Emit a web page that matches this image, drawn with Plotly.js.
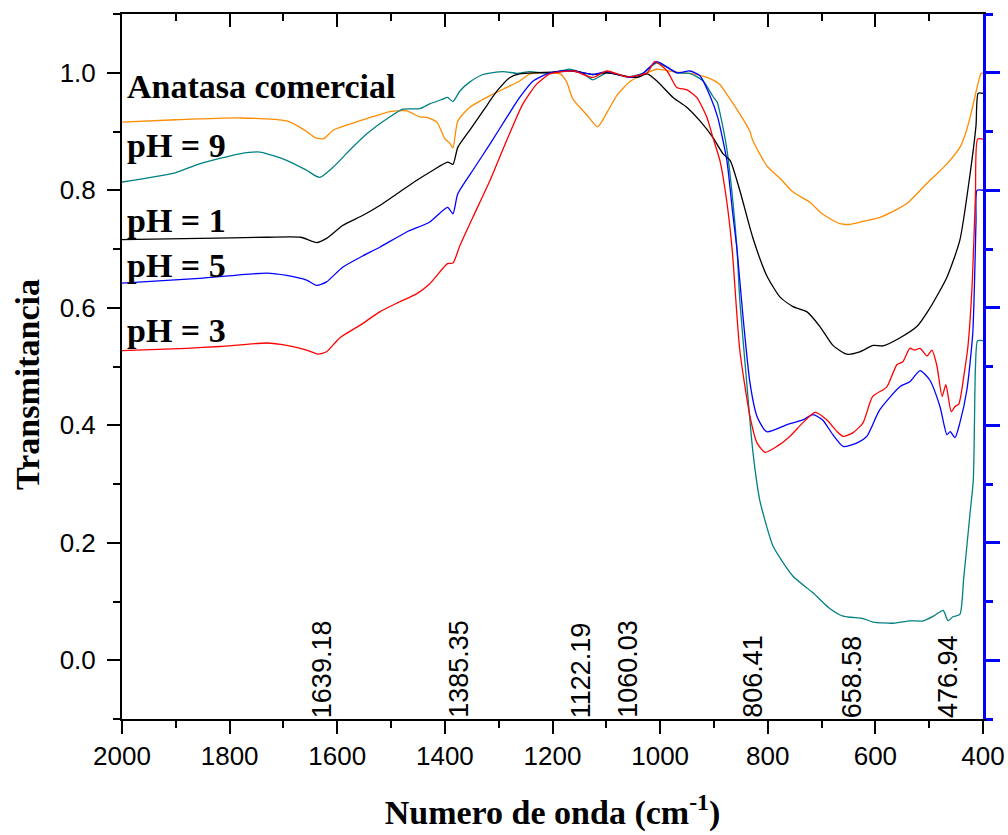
<!DOCTYPE html>
<html>
<head>
<meta charset="utf-8">
<script src="https://cdn.plot.ly/plotly-3.0.1.min.js"></script>
<style>html,body{margin:0;padding:0;background:#fff}#chart{width:1008px;height:835px}</style>
</head>
<body>
<div id="chart"></div>
<script>
// ---- data (wavenumber cm-1, transmittance) ----
const wnCom = [2000,1900,1780,1694,1660,1640,1625,1608,1595,1545,1502,1471,1447,1433,1415,1400,1391,1385,1376,1354,1316,1285,1261,1242,1218,1186,1174,1162,1136,1116,1099,1080,1056,1031,1006,976,939,907,889,870,852,833,828,802,777,753,722,699,666,647,623,591,542,505,467,443,433,424,411,404,400];
const trCom = [0.916,0.920,0.923,0.918,0.902,0.889,0.888,0.902,0.907,0.922,0.934,0.935,0.925,0.924,0.916,0.888,0.880,0.872,0.918,0.941,0.961,0.975,0.986,0.998,1.000,0.998,0.985,0.955,0.928,0.908,0.932,0.962,0.985,0.997,1.006,1.002,0.998,0.990,0.980,0.955,0.930,0.900,0.885,0.842,0.820,0.797,0.780,0.760,0.743,0.742,0.747,0.754,0.777,0.811,0.845,0.873,0.895,0.924,0.975,0.998,1.0];

const wnPH9 = [2000,1900,1856,1781,1744,1694,1657,1633,1608,1577,1545,1502,1478,1447,1428,1404,1395,1385,1372,1354,1329,1292,1266,1242,1210,1181,1168,1145,1125,1099,1062,1032,1006,969,945,920,902,894,889,876,865,857,852,839,828,815,809,790,753,716,686,660,623,604,567,536,511,492,474,465,456,443,436,424,418,414,410,400];
const trPH9 = [0.814,0.830,0.845,0.862,0.865,0.851,0.834,0.822,0.839,0.868,0.896,0.925,0.938,0.939,0.947,0.955,0.958,0.951,0.969,0.984,0.997,1.002,0.999,1.002,0.999,1.004,1.006,1.000,0.988,1.000,0.993,0.999,1.017,1.000,0.999,0.986,0.960,0.950,0.932,0.870,0.783,0.698,0.613,0.472,0.358,0.273,0.251,0.194,0.143,0.115,0.089,0.075,0.071,0.065,0.063,0.067,0.067,0.075,0.085,0.067,0.074,0.078,0.138,0.251,0.307,0.500,0.544,0.544];

const wnPH1 = [2000,1856,1731,1668,1638,1620,1590,1553,1521,1489,1452,1422,1395,1385,1376,1354,1329,1303,1279,1261,1229,1200,1163,1125,1099,1062,1043,1024,1006,976,950,926,902,883,870,852,828,802,777,753,727,703,679,653,629,604,586,554,523,499,467,443,424,413,409,400];
const trPH1 = [0.716,0.718,0.720,0.720,0.711,0.718,0.740,0.757,0.774,0.794,0.817,0.834,0.848,0.844,0.873,0.902,0.935,0.969,0.992,0.998,1.000,1.001,1.003,0.997,1.000,0.994,0.992,0.998,0.986,0.958,0.941,0.918,0.890,0.862,0.851,0.800,0.720,0.655,0.618,0.602,0.593,0.568,0.536,0.521,0.525,0.536,0.535,0.549,0.568,0.599,0.652,0.715,0.828,0.910,0.965,0.965];

const wnPH5 = [2000,1856,1731,1694,1657,1638,1620,1590,1553,1521,1471,1428,1395,1385,1376,1348,1316,1285,1261,1236,1210,1181,1160,1125,1099,1056,1032,1006,969,945,926,907,893,876,865,857,846,833,820,802,764,735,716,698,679,660,634,616,592,554,536,517,499,480,467,461,452,443,430,419,413,411,400];
const trPH5 = [0.642,0.650,0.659,0.655,0.647,0.638,0.644,0.669,0.688,0.703,0.729,0.746,0.771,0.760,0.794,0.834,0.879,0.924,0.958,0.986,0.998,1.003,1.003,0.997,1.002,0.992,0.999,1.019,1.000,1.003,0.995,0.960,0.924,0.851,0.760,0.698,0.585,0.472,0.415,0.389,0.401,0.409,0.418,0.409,0.384,0.364,0.370,0.381,0.426,0.466,0.474,0.493,0.477,0.432,0.384,0.389,0.379,0.404,0.460,0.557,0.745,0.800,0.800];

const wnPH3 = [2000,1880,1818,1731,1694,1657,1636,1620,1595,1558,1521,1489,1452,1428,1395,1385,1372,1348,1316,1285,1255,1229,1205,1181,1160,1125,1099,1062,1024,1010,987,969,950,932,913,902,889,876,866,852,833,820,805,783,759,735,712,690,671,660,642,623,605,579,560,549,536,527,517,504,495,486,476,469,459,452,445,434,428,420,414,410,400];
const trPH3 = [0.527,0.531,0.534,0.540,0.536,0.528,0.521,0.525,0.549,0.570,0.593,0.608,0.624,0.641,0.675,0.676,0.706,0.754,0.817,0.885,0.947,0.981,0.998,1.002,1.003,0.992,1.003,0.993,1.000,1.019,1.003,0.975,0.971,0.958,0.924,0.890,0.851,0.780,0.698,0.528,0.415,0.370,0.354,0.364,0.381,0.404,0.422,0.409,0.389,0.381,0.387,0.404,0.449,0.465,0.503,0.508,0.531,0.528,0.531,0.518,0.528,0.503,0.449,0.469,0.423,0.432,0.436,0.494,0.534,0.642,0.793,0.887,0.887];

const seriesLabels = ['Anatasa comercial','pH = 9','pH = 1','pH = 5','pH = 3'];
const peakValues = [1639.18, 1385.35, 1122.19, 1060.03, 806.41, 658.58, 476.94];
const peakLabels = ['1639.18','1385.35','1122.19','1060.03','806.41','658.58','476.94'];

// ---- styling ----
const colors = ['#FF8C00','#008080','#000000','#0000FF','#FF0000'];
const series = [[wnCom,trCom],[wnPH9,trPH9],[wnPH1,trPH1],[wnPH5,trPH5],[wnPH3,trPH3]];
const labelY = [0.8965, 0.814, 0.707, 0.643, 0.551];
const peakShift = [6, 6, -13, 0, -12, 8, 6];

const traces = series.map((s, i) => ({
  x: s[0], y: s[1], type: 'scatter', mode: 'lines', name: seriesLabels[i],
  line: {color: colors[i], width: 1.3, shape: 'spline', smoothing: 0.6}, showlegend: false, hoverinfo: 'skip'
}));
// helper traces so the mirrored top and right axes are drawn
traces.push({x: [], y: [], xaxis: 'x2', yaxis: 'y', showlegend: false, hoverinfo: 'skip', type: 'scatter'});
traces.push({x: [], y: [], xaxis: 'x', yaxis: 'y2', showlegend: false, hoverinfo: 'skip', type: 'scatter'});

const tickFont = {family: 'Liberation Sans, Arial, sans-serif', size: 26, color: '#000'};
const peakFont = {family: 'Liberation Sans, Arial, sans-serif', size: 27, color: '#000'};
const titleFont = {family: 'Liberation Serif, Times New Roman, serif', size: 34, color: '#000', weight: 'bold'};

const annotations = seriesLabels.map((t, i) => ({
  text: '<b>' + t + '</b>', xref: 'paper', yref: 'paper', x: 0.004, y: labelY[i],
  xanchor: 'left', yanchor: 'middle', showarrow: false, font: titleFont
}));
peakValues.forEach((v, i) => annotations.push({
  text: peakLabels[i], xref: 'x', yref: 'paper', x: v, y: 0, xshift: peakShift[i], yshift: -1,
  xanchor: 'center', yanchor: 'bottom', textangle: -90, showarrow: false, font: peakFont
}));
// y-axis title (placed slightly below centre as in the reference)
annotations.push({
  text: '<b>Transmitancia</b>', xref: 'paper', yref: 'paper', x: -0.109, y: 0.474,
  xanchor: 'center', yanchor: 'middle', textangle: -90, showarrow: false, font: titleFont
});

const layout = {
  width: 1008, height: 835,
  margin: {l: 122, r: 25, t: 14, b: 116},
  paper_bgcolor: '#fff', plot_bgcolor: '#fff',
  showlegend: false,
  xaxis: {
    range: [2000, 400], tick0: 0, dtick: 200, ticks: 'outside', ticklen: 13, tickwidth: 2, tickcolor: '#000',
    showline: true, linecolor: '#000', linewidth: 2, showgrid: false, zeroline: false,
    tickfont: tickFont,
    minor: {dtick: 100, tick0: 0, ticks: 'outside', ticklen: 7, tickwidth: 2, tickcolor: '#000', showgrid: false},
    title: {text: '<b>Numero de onda (cm<sup>-1</sup>)</b>', font: titleFont, standoff: 30}
  },
  xaxis2: {
    overlaying: 'x', side: 'top', anchor: 'y',
    range: [2000, 400], tick0: 0, dtick: 200, ticks: 'inside', ticklen: 13, tickwidth: 2, tickcolor: '#000',
    showline: true, linecolor: '#000', linewidth: 2, showgrid: false, zeroline: false, showticklabels: false,
    minor: {dtick: 100, tick0: 0, ticks: 'inside', ticklen: 7, tickwidth: 2, tickcolor: '#000', showgrid: false}
  },
  yaxis: {
    range: [-0.1, 1.1], tick0: 0, dtick: 0.2, tickformat: '.1f', ticks: 'outside', ticklen: 13, tickwidth: 2, tickcolor: '#000',
    showline: true, linecolor: '#000', linewidth: 2, showgrid: false, zeroline: false,
    tickfont: tickFont, ticklabelstandoff: 6,
    minor: {dtick: 0.1, tick0: 0, ticks: 'outside', ticklen: 7, tickwidth: 2, tickcolor: '#000', showgrid: false}
  },
  yaxis2: {
    overlaying: 'y', side: 'right', anchor: 'x',
    range: [-0.1, 1.1], tick0: 0, dtick: 0.2, ticks: 'outside', ticklen: 14, tickwidth: 3, tickcolor: '#0000FF',
    showline: true, linecolor: '#0000FF', linewidth: 3, showgrid: false, zeroline: false, showticklabels: false,
    minor: {dtick: 0.1, tick0: 0, ticks: 'outside', ticklen: 7, tickwidth: 3, tickcolor: '#0000FF', showgrid: false}
  },
  annotations: annotations
};

Plotly.newPlot('chart', traces, layout, {displayModeBar: false, staticPlot: true});
</script>
</body>
</html>
